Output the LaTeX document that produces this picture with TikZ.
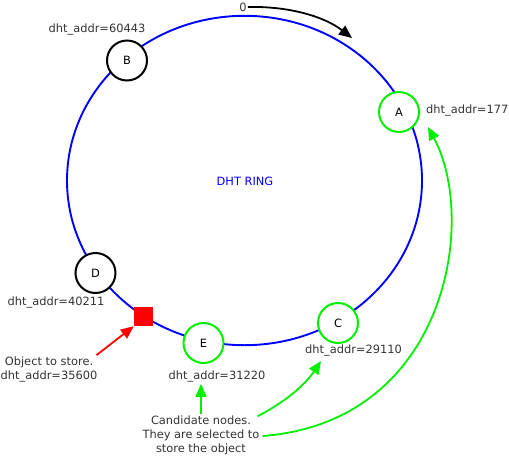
\documentclass[tikz,border=0pt]{standalone}
\usepackage{fontspec}
\setmainfont{DejaVu Sans}
\usetikzlibrary{arrows.meta}
\definecolor{candgreen}{RGB}{0,240,0}
\tikzset{
	peer/.style={circle, draw=black, fill=white, line width=2pt, minimum size=40pt, inner sep=0pt},
	cand/.style={peer, draw=candgreen},
	addr/.style={inner sep=1pt, text=black!80},
	tip/.style={-{Triangle[length=13pt,width=11pt]}, line width=1.8pt},
}

\begin{document}
\begin{tikzpicture}[x=1pt, y=-1pt, font=\fontsize{11.4}{14}\selectfont]
			%%%%% START %%%%%
			\useasboundingbox (0, 0) rectangle (509, 456);
			
			% the ring
			\draw[line width=1.9pt, color=blue] (244.5, 180.5) ellipse [x radius=177.5pt, y radius=164.7pt];
			\node[text=blue] (ring) at (245, 181) {DHT RING};
			
			% peers on the ring
			\node[peer] (B) at (127, 60.5) {B};
			\node[cand] (A) at (399, 112) {A};
			\node[peer] (D) at (95.5, 273) {D};
			\node[cand] (E) at (203.5, 343) {E};
			\node[cand] (C) at (338, 323) {C};
			\node[fill=red, minimum size=19pt, inner sep=0pt] (obj) at (143.5, 316.5) {};
			
			% addresses
			\node[addr] (addrB) at (97, 30) {dht\_addr=60443};
			\node[addr, anchor=west] (addrA) at (425, 111) {dht\_addr=177};
			\node[addr] (addrD) at (56, 302.5) {dht\_addr=40211};
			\node[addr] (addrE) at (217, 377) {dht\_addr=31220};
			\node[addr] (addrC) at (353.5, 351) {dht\_addr=29110};
			\node[addr, align=center] (objtxt) at (49, 370) {Object to store.\\dht\_addr=35600};
			\node[addr, align=center] (candtxt) at (201, 435) {Candidate nodes.\\They are selected to\\store the object};
			
			% zero point
			\node[addr] (zero) at (243, 7) {0};
			\coordinate (zerotip) at (352, 38);
			\draw[tip, color=black] (zero.east) .. controls (290, 6) and (325, 17) .. (zerotip);
			
			% arrows
			\draw[tip, color=red] (objtxt.north east) ++(-2, -1) -- (obj.south west);
			\draw[tip, color=candgreen] (candtxt.north) -- (candtxt.north |- addrE.south);
			\coordinate (tipC) at (321, 361);
			\coordinate (tipA) at (428, 127);
			\draw[tip, color=candgreen] (candtxt.north east) ++(-3, 2) .. controls (285, 402) and (305, 385) .. (tipC);
			\draw[tip, color=candgreen] (candtxt.east) ++(2, 1) .. controls (447, 422) and (478, 220) .. (tipA);
			
			%%%%% END %%%%%
\end{tikzpicture}
\end{document}
